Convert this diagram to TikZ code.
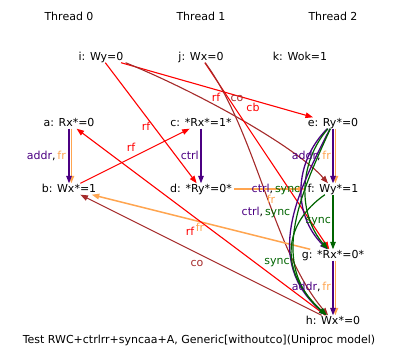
\documentclass[tikz,border=0pt]{standalone}
\usepackage{fontspec}
\setmainfont{DejaVu Sans}
\usetikzlibrary{arrows.meta}
\definecolor{RfRed}{RGB}{255,0,0}
\definecolor{CoBrown}{RGB}{165,42,42}
\definecolor{FrOrange}{RGB}{255,165,80}
\definecolor{DepPurple}{RGB}{75,0,130}
\definecolor{SyncGreen}{RGB}{0,100,0}
\tikzset{
  ev/.style={inner xsep=2pt, inner ysep=0.5pt, text height=8pt, text depth=2pt,
    font=\fontsize{11}{13}\selectfont},
  elab/.style={inner sep=0pt, font=\fontsize{11}{13}\selectfont},
  rel/.style={-{Triangle[length=7.5pt,width=5.5pt]}, line width=1.1pt},
  rfarr/.style={rel, RfRed},
  coarr/.style={rel, CoBrown},
  frarr/.style={rel, FrOrange, line width=1.5pt},
  addrarr/.style={rel, DepPurple, line width=1.4pt},
  ctrlarr/.style={rel, DepPurple, line width=1.3pt},
  syncarr/.style={rel, SyncGreen, line width=1.2pt},
}
\begin{document}
\begin{tikzpicture}[x=1pt, y=-1pt]
  \useasboundingbox (0,0) rectangle (398,361);
  % threads
  \node[ev] (t0) at (69,18) {Thread 0};
  \node[ev] (t1) at (201,18) {Thread 1};
  \node[ev] (t2) at (333,18) {Thread 2};
  % events
  \node[ev] (i) at (101,57) {i: Wy=0};
  \node[ev] (j) at (201,57) {j: Wx=0};
  \node[ev] (k) at (300,57) {k: Wok=1};
  \node[ev] (a) at (69,123) {a: Rx*=0};
  \node[ev] (c) at (201,123) {c: *Rx*=1*};
  \node[ev] (e) at (333,123) {e: Ry*=0};
  \node[ev] (b) at (69,189) {b: Wx*=1};
  \node[ev] (d) at (201,189) {d: *Ry*=0*};
  \node[ev] (f) at (333,189) {f: Wy*=1};
  \node[ev] (g) at (333,255) {g: *Rx*=0*};
  \node[ev] (h) at (333,321) {h: Wx*=0};
  \node[ev] (cap) at (199,340) {Test RWC+ctrlrr+syncaa+A, Generic[withoutco](Uniproc model)};
  % relations
  \draw[rfarr] (i) -- (e);
  \draw[rfarr] (i) -- (d);
  \draw[coarr] (i.south east) .. controls +(78,32) and +(-36,-41) .. (f);
  \draw[rfarr] (j) -- (g);
  \draw[coarr] (j) .. controls +(55,75) and +(-60,-70) .. (h);
  \draw[rfarr] (b) -- (c);
  \draw[ctrlarr] (c) -- (d);
  \draw[frarr] (d) -- (f);
  \draw[frarr] (g) -- (b);
  \draw[rfarr] (h) -- (a);
  \draw[coarr] (h) -- (b);
  \draw[frarr] ([xshift=2.4pt]a.south) -- ([xshift=2.4pt]b.north);
  \draw[addrarr] (a) -- (b);
  \draw[frarr] ([xshift=2.4pt]e.south) -- ([xshift=2.4pt]f.north);
  \draw[addrarr] (e) -- (f);
  \draw[frarr] ([xshift=2.4pt]g.south) -- ([xshift=2.4pt]h.north);
  \draw[addrarr] (g) -- (h);
  \draw[syncarr] (f) -- (g);
  \draw[ctrlarr] (e) .. controls +(-40,40) and +(-40,-40) .. (g);
  \draw[syncarr] (e) .. controls +(-35,40) and +(-35,-40) .. (g);
  \draw[ctrlarr] (e) .. controls +(-36,70) and +(-70,-60) .. (h);
  \draw[syncarr] (e) .. controls +(-32,70) and +(-65,-57) .. (h);
  \draw[syncarr] (f) .. controls +(-50,35) and +(-55,-50) .. (h);
  % labels
  \node[elab, RfRed] (lrf1) at (216,97) {rf};
  \node[elab, CoBrown] (lco1) at (237,98) {co};
  \node[elab, RfRed] (lcb) at (253,107) {cb};
  \node[elab, RfRed] (lrf2) at (146,126) {rf};
  \node[elab, RfRed] (lrf3) at (131,147) {rf};
  \node[elab, RfRed] (lrf4) at (190,231) {rf};
  \node[elab, FrOrange] (lfr1) at (200,227) {fr};
  \node[elab, CoBrown] (lco2) at (197,263) {co};
  \node[elab, FrOrange] (lfr2) at (271,199) {fr};
  \node[elab, DepPurple, anchor=east] (lctrl) at (199,155) {ctrl};
  \node[elab, anchor=east] (lab1) at (66,156) {\textcolor{DepPurple}{addr},\,\textcolor{FrOrange}{fr}};
  \node[elab, anchor=east] (lab2) at (331,156) {\textcolor{DepPurple}{addr},\,\textcolor{FrOrange}{fr}};
  \node[elab, anchor=east] (lab3) at (331,287) {\textcolor{DepPurple}{addr},\,\textcolor{FrOrange}{fr}};
  \node[elab, SyncGreen, anchor=east] (lsync1) at (331,222) {sync};
  \node[elab] (lcs1) at (276,189) {\textcolor{DepPurple}{ctrl},\,\textcolor{SyncGreen}{sync}};
  \node[elab] (lcs2) at (266,212) {\textcolor{DepPurple}{ctrl},\,\textcolor{SyncGreen}{sync}};
  \node[elab, SyncGreen] (lsync2) at (277,263) {sync};
\end{tikzpicture}
\end{document}
